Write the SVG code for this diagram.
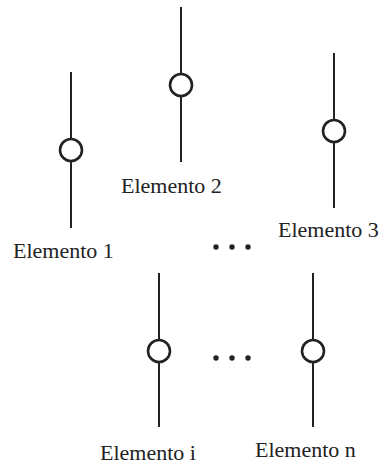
<svg xmlns="http://www.w3.org/2000/svg" width="384" height="469" viewBox="0 0 384 469">
<style>
.ln{stroke:#222;stroke-width:2;fill:none}
.nd{stroke:#222;stroke-width:2.6;fill:#fff}
.lb{font-family:"Liberation Serif","Times New Roman",serif;font-size:22px;fill:#222}
.dot{fill:#222}
</style>
<rect width="384" height="469" fill="#fff"/>
<g id="connectors">
<line class="ln" x1="71" y1="72" x2="71" y2="228"/>
<line class="ln" x1="181" y1="7" x2="181" y2="162"/>
<line class="ln" x1="334" y1="53" x2="334" y2="208"/>
<line class="ln" x1="159" y1="273" x2="159" y2="427"/>
<line class="ln" x1="313" y1="273" x2="313" y2="427"/>
</g>
<g id="elemento1">
<circle class="nd" cx="71" cy="150" r="11"/>
<text class="lb" x="13" y="258">Elemento 1</text>
</g>
<g id="elemento2">
<circle class="nd" cx="181" cy="85" r="11"/>
<text class="lb" x="121" y="193">Elemento 2</text>
</g>
<g id="elemento3">
<circle class="nd" cx="334" cy="131" r="11"/>
<text class="lb" x="278" y="237">Elemento 3</text>
</g>
<g id="elementoi">
<circle class="nd" cx="159" cy="351" r="11"/>
<text class="lb" x="100" y="460">Elemento i</text>
</g>
<g id="elementon">
<circle class="nd" cx="313" cy="351" r="11"/>
<text class="lb" x="255" y="457">Elemento n</text>
</g>
<g id="ellipsis">
<circle class="dot" cx="216" cy="247" r="2.7"/>
<circle class="dot" cx="232" cy="247" r="2.7"/>
<circle class="dot" cx="248" cy="247" r="2.7"/>
<circle class="dot" cx="216" cy="358" r="2.7"/>
<circle class="dot" cx="232" cy="358" r="2.7"/>
<circle class="dot" cx="248" cy="358" r="2.7"/>
</g>
</svg>
